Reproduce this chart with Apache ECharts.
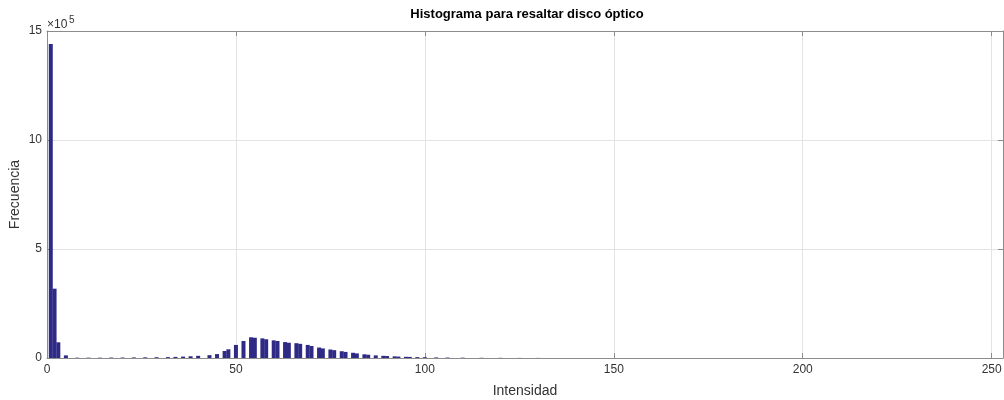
<!DOCTYPE html>
<html>
<head>
<meta charset="utf-8">
<script src="https://cdn.jsdelivr.net/npm/echarts@6/dist/echarts.min.js"></script>
<style>
html,body{margin:0;padding:0;background:#fff;}
#chart{width:1004px;height:400px;}
</style>
</head>
<body>
<div id="chart"></div>
<script>
// Intensity levels (bin centres) and their frequencies
const intensity = [1, 2, 3, 5, 8, 11, 14, 17, 20, 23, 26, 29, 32, 34, 36, 38, 40, 43, 45, 47, 48, 50, 52,
  54, 55, 57, 58, 60, 61, 63, 64, 66, 67, 69, 70, 72, 73, 75, 76, 78, 79, 81, 82, 84, 85, 87,
  89, 90, 92, 93, 95, 96, 98, 100, 103, 106, 110, 115, 120, 125, 130];
const frequency = [1440000, 318000, 72000, 12000, 1500, 1500, 1500, 2000, 2000, 2500, 3000, 3500, 4000, 5000, 6500, 8000, 10000, 13000, 18000, 32000, 40000, 60000, 78000,
  95000, 93000, 90000, 86000, 81000, 78000, 73000, 70000, 68000, 65000, 60000, 55000, 48000, 44000, 39000, 36000, 31000, 28000, 24000, 21000, 17000, 15000, 12000,
  10000, 9000, 7500, 6500, 5500, 5000, 4000, 3500, 2500, 2000, 1500, 1000, 800, 500, 400];
const xTicks = [0, 50, 100, 150, 200, 250];
const yTicks = [0, 5, 10, 15]; // ×10^5

const titleText = 'Histograma para resaltar disco óptico';
const xName = 'Intensidad';
const yName = 'Frecuencia';

const xMax = 253;
const yScale = 100000;

const frameColor = '#8c8c8c';
const textColor = '#333333';
const gridColor = '#e3e3e3';
const barColor = '#2e2a86';
const font = 'Liberation Sans, Arial, sans-serif';

const chart = echarts.init(document.getElementById('chart'), null, {renderer: 'canvas'});

const tickCommon = {show: true, inside: true, length: 5, lineStyle: {color: frameColor, width: 1}};

const option = {
  animation: false,
  backgroundColor: '#ffffff',
  title: {
    text: titleText,
    left: 522, top: 3, textAlign: 'center',
    textStyle: {fontFamily: font, fontSize: 13, fontWeight: 'bold', color: '#000'}
  },
  grid: {left: 47, right: 1, top: 31, bottom: 42, containLabel: false, outerBoundsMode: 'none'},
  graphic: [
    {type: 'text', left: 47, top: 19, style: {text: '×10', font: '12px ' + font, fill: textColor}},
    {type: 'text', left: 69, top: 15, style: {text: '5', font: '10px ' + font, fill: textColor}}
  ],
  xAxis: [
    {
      type: 'value', min: 0, max: xMax, interval: xTicks[1] - xTicks[0], position: 'bottom',
      name: xName, nameLocation: 'middle', nameGap: 26, nameMoveOverlap: false,
      nameTextStyle: {fontFamily: font, fontSize: 14, color: textColor},
      axisLine: {show: true, onZero: false, lineStyle: {color: frameColor, width: 1}},
      axisTick: tickCommon,
      axisLabel: {show: true, showMaxLabel: false, margin: 6, fontFamily: font, fontSize: 12, color: textColor,
        formatter: v => xTicks.includes(v) ? String(v) : ''},
      splitLine: {show: true, lineStyle: {color: gridColor, width: 1}}
    },
    {
      type: 'value', min: 0, max: xMax, interval: xTicks[1] - xTicks[0], position: 'top',
      axisLine: {show: true, onZero: false, lineStyle: {color: frameColor, width: 1}},
      axisTick: tickCommon,
      axisLabel: {show: false},
      splitLine: {show: false}
    }
  ],
  yAxis: [
    {
      type: 'value', min: 0, max: yTicks[yTicks.length - 1] * yScale, interval: (yTicks[1] - yTicks[0]) * yScale,
      position: 'left',
      name: yName, nameLocation: 'middle', nameGap: 25, nameMoveOverlap: false,
      nameTextStyle: {fontFamily: font, fontSize: 14, color: textColor},
      axisLine: {show: true, onZero: false, lineStyle: {color: frameColor, width: 1}},
      axisTick: tickCommon,
      axisLabel: {show: true, margin: 5, fontFamily: font, fontSize: 12, color: textColor,
        formatter: v => String(Math.round(v / yScale))},
      splitLine: {show: true, lineStyle: {color: gridColor, width: 1}}
    },
    {
      type: 'value', min: 0, max: yTicks[yTicks.length - 1] * yScale, interval: (yTicks[1] - yTicks[0]) * yScale,
      position: 'right',
      axisLine: {show: true, onZero: false, lineStyle: {color: frameColor, width: 1}},
      axisTick: tickCommon,
      axisLabel: {show: false},
      splitLine: {show: false}
    }
  ],
  series: [{
    type: 'bar',
    xAxisIndex: 0, yAxisIndex: 0,
    barWidth: 4,
    itemStyle: {color: barColor},
    data: intensity.map((x, i) => [x, frequency[i]])
  }]
};
chart.setOption(option);
</script>
</body>
</html>
